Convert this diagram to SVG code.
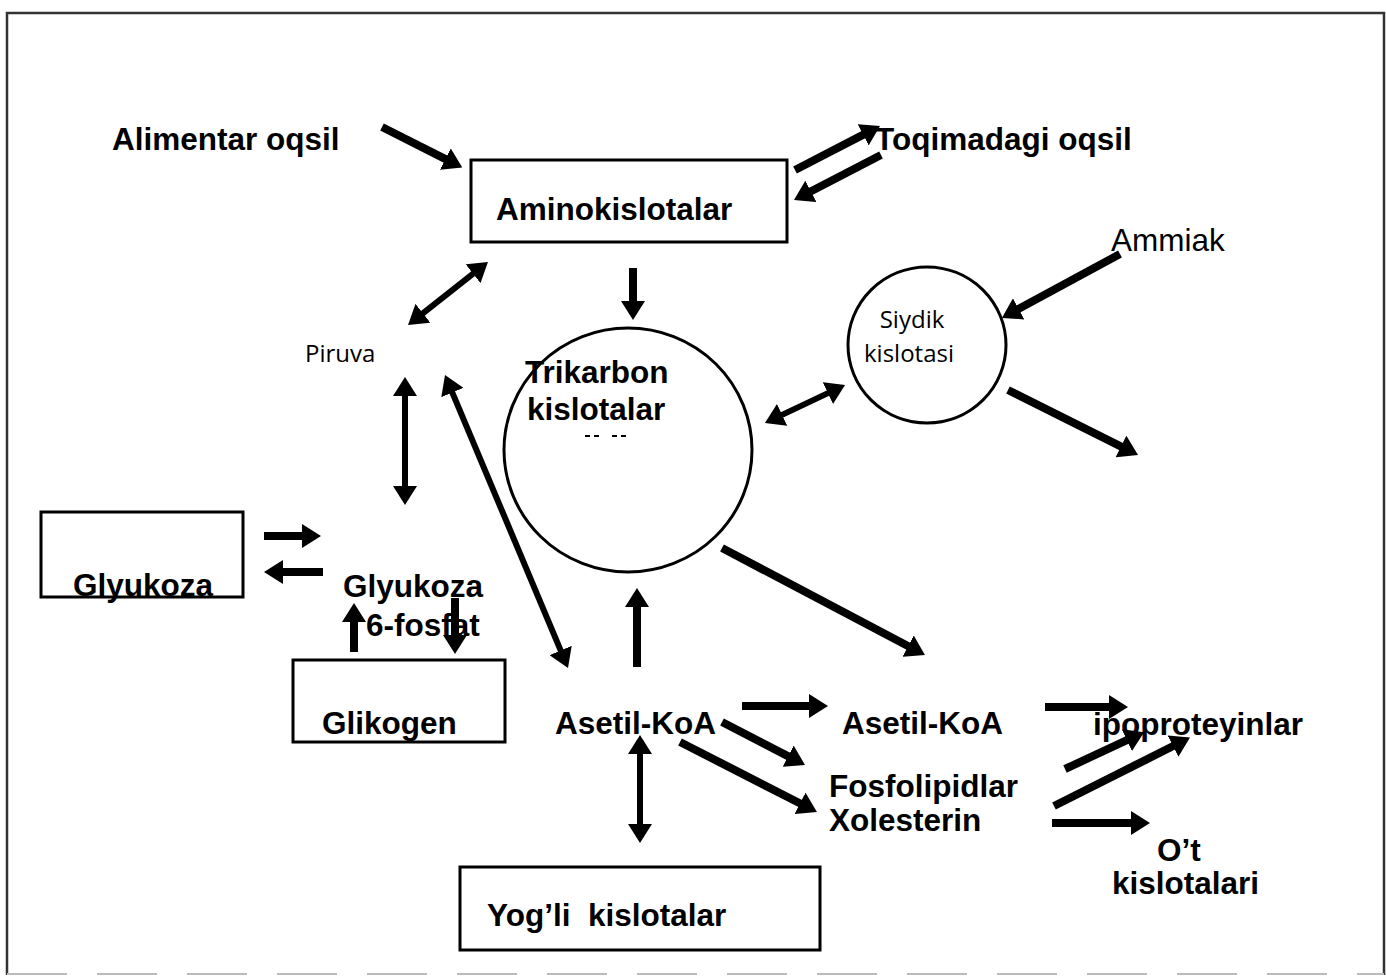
<svg xmlns="http://www.w3.org/2000/svg" width="1386" height="979" viewBox="0 0 1386 979">
<style>
.b{font-family:"Liberation Sans",Arial,sans-serif;font-weight:bold;font-size:31.5px;fill:#000}
.r{font-family:"Liberation Sans",Arial,sans-serif;font-size:31.5px;fill:#000}
.s{font-family:"Open Sans","Noto Sans",sans-serif;font-size:24px;fill:#000}
.box{fill:none;stroke:#000;stroke-width:3}
.circ{fill:none;stroke:#000;stroke-width:3}
.a{fill:none;stroke:#000;stroke-width:8;marker-end:url(#ah)}
.d{fill:none;stroke:#000;stroke-width:6;marker-start:url(#ah);marker-end:url(#ah)}
</style>
<defs>
<marker id="ah" markerUnits="userSpaceOnUse" markerWidth="19" markerHeight="24" refX="3" refY="12" orient="auto-start-reverse" viewBox="0 0 19 24">
<path d="M0,0 L19,12 L0,24 z" fill="#000"/>
</marker>
</defs>
<rect width="1386" height="979" fill="#fff"/>
<g id="frame" fill="none">
<path d="M7,975 L7,13 L1384,13 L1384,975" stroke="#333" stroke-width="2.5"/>
<path d="M7,974 L1384,974" stroke="#bbb" stroke-width="2" stroke-dasharray="60 30"/>
</g>
<g id="alimentar"><text class="b" x="112" y="150">Alimentar oqsil</text></g>
<g id="toqimadagi"><text class="b" x="875" y="150">Toqimadagi oqsil</text></g>
<g id="aminokislotalar"><rect class="box" x="471" y="160" width="316" height="82"/><text class="b" x="496" y="220">Aminokislotalar</text></g>
<g id="ammiak"><text class="r" x="1111" y="251">Ammiak</text></g>
<g id="siydik"><ellipse class="circ" cx="927" cy="345" rx="79" ry="78"/><text class="s" x="912" y="328" text-anchor="middle">Siydik</text><text class="s" x="909" y="362" text-anchor="middle">kislotasi</text></g>
<g id="piruva"><text class="s" x="305" y="362">Piruva</text></g>
<g id="trikarbon"><ellipse class="circ" cx="628" cy="450" rx="124" ry="122"/><text class="b" x="525" y="383">Trikarbon</text><text class="b" x="527" y="420">kislotalar</text><path d="M585,436 H626" stroke="#000" stroke-width="2" stroke-dasharray="5 4 5 13 5 4 5"/></g>
<g id="glyukoza"><rect class="box" x="41" y="512" width="202" height="85"/><text class="b" x="73" y="596">Glyukoza</text></g>
<g id="g6f"><text class="b" x="343" y="597">Glyukoza</text><text class="b" x="366" y="636">6-fosfat</text></g>
<g id="glikogen"><rect class="box" x="293" y="660" width="212" height="82"/><text class="b" x="322" y="734">Glikogen</text></g>
<g id="asetilkoa1"><text class="b" x="555" y="734">Asetil-KoA</text></g>
<g id="asetilkoa2"><text class="b" x="842" y="734">Asetil-KoA</text></g>
<g id="lipoproteinlar"><text class="b" x="1093" y="735">ipoproteyinlar</text></g>
<g id="fosfolipidlar"><text class="b" x="829" y="797">Fosfolipidlar</text><text class="b" x="829" y="831">Xolesterin</text></g>
<g id="otkislotalari"><text class="b" x="1157" y="861">O’t</text><text class="b" x="1112" y="894">kislotalari</text></g>
<g id="yogli"><rect class="box" x="460" y="867" width="360" height="83"/><text class="b" x="487" y="926" xml:space="preserve">Yog’li  kislotalar</text></g>
<g id="connectors">
<path class="a" d="M382,127 L448,160.4"/>
<path class="a" d="M795,170 L865.8,133.4"/>
<path class="a" d="M881,155 L808.2,192.7"/>
<path class="a" d="M1120,254 L1016,310.3"/>
<path class="a" d="M1008,390 L1123.7,447.8"/>
<path class="d" d="M779.4,416.1 L830.6,391.9"/>
<path class="a" d="M633,268 L633,304"/>
<path class="d" d="M420.6,315.1 L475.4,271.9"/>
<path class="d" stroke-width="7" d="M405,393 L405,489"/>
<path class="d" stroke-width="7" d="M451.2,389.8 L561.8,653.2"/>
<path class="a" d="M637,667 L637,604"/>
<path class="a" d="M722,548 L910.8,647.5"/>
<path class="a" d="M264,536 L305,536"/>
<path class="a" d="M323,572 L280,572"/>
<path class="a" d="M354,652 L354,619"/>
<path class="a" d="M455,598 L455,638"/>
<path class="a" d="M742,706 L812,706"/>
<path class="a" d="M722,722 L790.8,757.6"/>
<path class="a" d="M680,742 L802.7,804.7"/>
<path class="d" stroke-width="7" d="M640,751 L640,827"/>
<path class="a" d="M1045,707 L1112,707"/>
<path class="a" d="M1065,769 L1129.6,738.9"/>
<path class="a" d="M1054,806 L1175.7,744.8"/>
<path class="a" d="M1052,823 L1134,823"/>
</g>
</svg>
